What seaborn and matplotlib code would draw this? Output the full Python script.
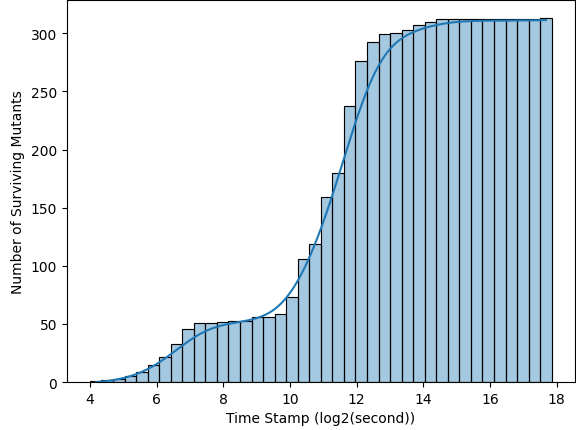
import numpy as np
import matplotlib
matplotlib.use("Agg")
import matplotlib.pyplot as plt
import seaborn as sns

# bins on log2(seconds), 40 of them
bin_edges = np.linspace(4.0, 17.85, 41)

# cumulative number of surviving mutants
cumulative_counts = [1, 2, 3, 5, 9, 15, 22, 33, 46, 51,
                     51, 52, 53, 53, 56, 56, 59, 73, 106, 119,
                     159, 180, 237, 276, 292, 299, 300, 303, 307, 310,
                     312, 312, 312, 312, 312, 312, 312, 312, 312, 313]

# back to per-bin counts, one sample per mutant at the bin centre
per_bin = np.diff([0] + cumulative_counts)
centres = (bin_edges[:-1] + bin_edges[1:]) / 2
time_stamps = np.repeat(centres, per_bin)

fig = plt.figure(figsize=(5.76, 4.31), dpi=100)
ax = fig.add_axes([0.116, 0.111, 0.882, 0.887])
sns.histplot(x=time_stamps, bins=bin_edges, cumulative=True, kde=True,
             alpha=0.4, ax=ax)
ax.set_xlabel("Time Stamp (log2(second))")
ax.set_ylabel("Number of Surviving Mutants")
ax.set_xticks([4, 6, 8, 10, 12, 14, 16, 18])
fig.savefig("out.png", dpi=100)
